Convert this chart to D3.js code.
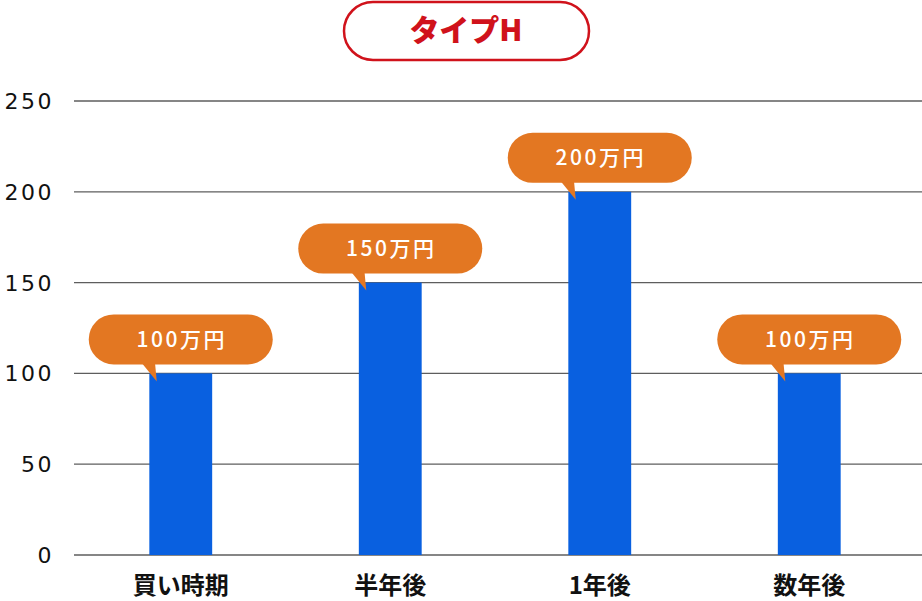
<!DOCTYPE html>
<html><head><meta charset="utf-8">
<script src="https://cdn.jsdelivr.net/npm/d3@7"></script>
<style>body{margin:0;background:#fff}svg{display:block}</style>
</head><body>
<script>
const categories = ["買い時期", "半年後", "1年後", "数年後"];
const values = [100, 150, 200, 100];
const valueLabels = ["100万円", "150万円", "200万円", "100万円"];
const yTicks = [0, 50, 100, 150, 200, 250];
const title = "タイプH";

const W = 922, H = 601;
const svg = d3.select("body").append("svg").attr("width", W).attr("height", H);
const x = d3.scaleBand().domain(categories).range([76, 914]).paddingInner(0.7).paddingOuter(0.35);
const y = d3.scaleLinear().domain([0, 250]).range([555, 101]);
const jp = "'Noto Sans CJK JP', 'Noto Sans', sans-serif";

// gridlines
svg.append("g").selectAll("line").data(yTicks).join("line")
  .attr("x1", 74).attr("x2", W).attr("y1", d => y(d)).attr("y2", d => y(d))
  .attr("stroke", "#5e5e5e").attr("stroke-width", 1.3);
// y labels
svg.append("g").selectAll("text").data(yTicks).join("text")
  .attr("x", 54).attr("y", d => y(d)).attr("dy", "0.36em").attr("text-anchor", "end")
  .attr("font-family", "'DejaVu Sans', sans-serif").attr("font-size", 22)
  .attr("letter-spacing", 2.5).attr("fill", "#111").text(d => d);

// bars
svg.append("g").selectAll("rect").data(values).join("rect")
  .attr("x", (d, i) => x(categories[i])).attr("width", x.bandwidth())
  .attr("y", d => y(d)).attr("height", d => y(0) - y(d)).attr("fill", "#0960E0");

// x labels
svg.append("g").selectAll("text").data(categories).join("text")
  .attr("x", d => x(d) + x.bandwidth() / 2).attr("y", 585).attr("dy", "0.36em")
  .attr("text-anchor", "middle").attr("font-family", jp).attr("font-weight", 700)
  .attr("font-size", 24).attr("fill", "#111").text(d => d);

// bubbles
const bw = 184, bh = 50;
const bub = svg.append("g").selectAll("g").data(values).join("g")
  .attr("transform", (d, i) => `translate(${x(categories[i]) + x.bandwidth() / 2},${y(d)})`);
bub.append("path").attr("d", "M-50,-24 L-27,-24 L-24,8 Z").attr("fill", "#E37722");
bub.append("rect").attr("x", -bw / 2).attr("y", -59).attr("width", bw).attr("height", bh)
  .attr("rx", bh / 2).attr("fill", "#E37722");
bub.append("text").attr("x", 1).attr("y", -34).attr("dy", "0.36em").attr("text-anchor", "middle")
  .attr("font-family", jp).attr("font-size", 21).attr("font-weight", 500).attr("fill", "#fff")
  .attr("letter-spacing", 2.5).text((d, i) => valueLabels[i]);

// title
svg.append("rect").attr("x", 344).attr("y", 2).attr("width", 245).attr("height", 58)
  .attr("rx", 29).attr("fill", "#fff").attr("stroke", "#D0121B").attr("stroke-width", 2.5);
svg.append("text").attr("x", 466).attr("y", 30).attr("dy", "0.36em").attr("text-anchor", "middle")
  .attr("font-family", jp).attr("font-weight", 900).attr("font-size", 30).attr("fill", "#D0121B")
  .text(title);
</script>
</body></html>
